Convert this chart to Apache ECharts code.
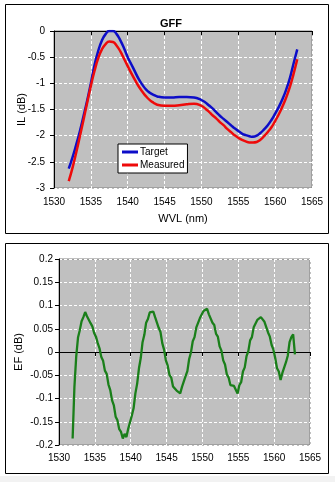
<!DOCTYPE html>
<html>
<head>
<meta charset="utf-8">
<script src="https://cdn.jsdelivr.net/npm/echarts@6/dist/echarts.min.js"></script>
<style>
  html, body { margin: 0; padding: 0; background: #ffffff; }
  #chart { width: 335px; height: 482px; }
</style>
</head>
<body>
<div id="chart"></div>
<script>
// Insertion loss of the gain-flattening filter (dB) vs wavelength (nm)
const ilWavelength = [
  1532, 1532.5, 1533, 1533.5, 1534, 1534.5, 1535, 1535.5, 1536, 1536.5,
  1537, 1537.5, 1538, 1538.5, 1539, 1539.5, 1540, 1540.5, 1541, 1541.5,
  1542, 1542.5, 1543, 1543.5, 1544, 1545, 1546, 1547, 1548, 1549,
  1550, 1550.5, 1551, 1551.5, 1552, 1552.5, 1553, 1553.5, 1554, 1554.5,
  1555, 1555.5, 1556, 1556.5, 1557, 1557.5, 1558, 1558.5, 1559, 1559.5,
  1560, 1560.5, 1561, 1561.5, 1562, 1562.5, 1563
];
const ilTarget = [
  -2.63, -2.42, -2.18, -1.92, -1.63, -1.33, -1.00, -0.65, -0.38, -0.18,
  -0.06, 0.00, 0.00, -0.06, -0.18, -0.33, -0.50, -0.64, -0.78, -0.92,
  -1.03, -1.12, -1.18, -1.22, -1.25, -1.27, -1.27, -1.26, -1.26, -1.27,
  -1.32, -1.36, -1.42, -1.48, -1.55, -1.62, -1.68, -1.74, -1.80, -1.86,
  -1.91, -1.96, -1.99, -2.01, -2.02, -2.00, -1.95, -1.88, -1.80, -1.70,
  -1.58, -1.45, -1.30, -1.12, -0.90, -0.62, -0.35
];
const ilMeasured = [
  -2.87, -2.62, -2.33, -2.02, -1.70, -1.37, -1.05, -0.76, -0.52, -0.35,
  -0.25, -0.20, -0.21, -0.28, -0.39, -0.53, -0.67, -0.81, -0.94, -1.06,
  -1.16, -1.25, -1.32, -1.37, -1.41, -1.43, -1.43, -1.42, -1.40, -1.39,
  -1.43, -1.48, -1.54, -1.61, -1.67, -1.74, -1.80, -1.87, -1.93, -1.99,
  -2.04, -2.08, -2.11, -2.13, -2.13, -2.12, -2.08, -2.01, -1.93, -1.84,
  -1.72, -1.59, -1.44, -1.27, -1.07, -0.82, -0.54
];

// Error function (measured - target) sampled every 0.25 nm from 1531.9 nm
const efStart = 1531.9;
const efStep = 0.25;
const efValues = [
  -0.186, -0.075, -0.010, 0.031, 0.047, 0.066, 0.075, 0.086, 0.077, 0.074,
  0.062, 0.055, 0.041, 0.033, 0.019, 0.008, -0.011, -0.019, -0.040, -0.047,
  -0.070, -0.082, -0.104, -0.115, -0.139, -0.147, -0.166, -0.172, -0.186, -0.176,
  -0.183, -0.165, -0.163, -0.137, -0.121, -0.089, -0.068, -0.035, -0.013, 0.021,
  0.037, 0.063, 0.071, 0.085, 0.084, 0.087, 0.075, 0.071, 0.052, 0.043,
  0.019, 0.005, -0.018, -0.029, -0.049, -0.055, -0.074, -0.071, -0.083, -0.080,
  -0.089, -0.075, -0.071, -0.052, -0.041, -0.015, -0.001, 0.023, 0.032, 0.053,
  0.057, 0.073, 0.075, 0.088, 0.085, 0.093, 0.081, 0.079, 0.063, 0.058,
  0.039, 0.033, 0.012, 0.003, -0.018, -0.027, -0.048, -0.055, -0.071, -0.069,
  -0.073, -0.076, -0.089, -0.071, -0.065, -0.042, -0.033, -0.009, 0.002, 0.025,
  0.032, 0.053, 0.055, 0.069, 0.067, 0.075, 0.071, 0.065, 0.061, 0.042,
  0.033, 0.015, 0.005, -0.013, -0.035, -0.042, -0.060, -0.045, -0.041, -0.022,
  -0.008, 0.021, 0.032, 0.038, -0.005
];

const xTicks = { min: 1530, max: 1565, interval: 5 };
const ilTicks = { min: -3, max: 0, interval: 0.5 };
const efTicks = { min: -0.2, max: 0.2, interval: 0.05 };

const FONT = 'Liberation Sans, Arial, sans-serif';

const pair = (xs, ys) => ys.map((v, i) => [xs[i], v]);
const efWavelength = efValues.map((_, i) => +(efStart + i * efStep).toFixed(2));
const plainNumber = v => String(+v.toFixed(3));

function valueAxis(range, labelMargin, extra) {
  return Object.assign({
    type: 'value',
    min: range.min, max: range.max, interval: range.interval,
    axisLine: { show: true, lineStyle: { color: '#000', width: 1 } },
    axisTick: { show: true, inside: false, length: 4, lineStyle: { color: '#000' } },
    axisLabel: { color: '#000', fontFamily: FONT, fontSize: 10, margin: labelMargin, formatter: plainNumber },
    splitLine: { show: true, lineStyle: { color: '#ffffff', type: [3, 2], width: 1 } },
    nameMoveOverlap: false
  }, extra || {});
}

const chart = echarts.init(document.getElementById('chart'), null, { renderer: 'canvas' });

chart.setOption({
  animation: false,
  backgroundColor: '#ffffff',
  title: {
    text: 'GFF',
    left: 166, top: 13, textAlign: 'center',
    textStyle: { fontFamily: FONT, fontSize: 11, fontWeight: 'bold', color: '#000' }
  },
  legend: {
    data: ['Target', 'Measured'],
    orient: 'vertical',
    left: 118, top: 144,
    itemWidth: 16, itemHeight: 3, itemGap: 3,
    icon: 'rect',
    padding: [3, 3, 3, 4],
    backgroundColor: '#ffffff',
    borderColor: '#000000', borderWidth: 1, borderRadius: 0,
    textStyle: { fontFamily: FONT, fontSize: 10, color: '#000', padding: [0, 0, 0, -3] }
  },
  graphic: [
    { type: 'rect', shape: { x: 5.5, y: 4.5, width: 323, height: 229 },
      style: { fill: 'none', stroke: '#000', lineWidth: 1 }, z: 100 },
    { type: 'rect', shape: { x: 5.5, y: 243.5, width: 323, height: 230 },
      style: { fill: 'none', stroke: '#000', lineWidth: 1 }, z: 100 },
    { type: 'rect', shape: { x: 0, y: 476, width: 335, height: 6 },
      style: { fill: '#f2f2f2' }, z: 0 }
  ],
  grid: [
    { left: 54, top: 31, width: 258, height: 157, show: true,
      backgroundColor: '#c0c0c0', borderColor: '#808080', borderWidth: 1 },
    { left: 59, top: 259, width: 251, height: 186, show: true,
      backgroundColor: '#c0c0c0', borderColor: '#808080', borderWidth: 1 }
  ],
  xAxis: [
    valueAxis(xTicks, 9, {
      gridIndex: 0,
      name: 'WVL (nm)', nameLocation: 'middle', nameGap: 25,
      nameTextStyle: { fontFamily: FONT, fontSize: 11, color: '#000' }
    }),
    valueAxis(xTicks, 8, { gridIndex: 1 })
  ],
  yAxis: [
    valueAxis(ilTicks, 9, {
      gridIndex: 0,
      name: 'IL (dB)', nameLocation: 'middle', nameGap: 27,
      nameTextStyle: { fontFamily: FONT, fontSize: 11, color: '#000' }
    }),
    valueAxis(efTicks, 6, {
      gridIndex: 1,
      name: 'EF (dB)', nameLocation: 'middle', nameGap: 35,
      nameTextStyle: { fontFamily: FONT, fontSize: 11, color: '#000' }
    })
  ],
  series: [
    { name: 'Target', type: 'line', xAxisIndex: 0, yAxisIndex: 0,
      data: pair(ilWavelength, ilTarget), showSymbol: false, smooth: true,
      lineStyle: { color: '#0d0dc8', width: 2.5 }, itemStyle: { color: '#0d0dc8' } },
    { name: 'Measured', type: 'line', xAxisIndex: 0, yAxisIndex: 0,
      data: pair(ilWavelength, ilMeasured), showSymbol: false, smooth: true,
      lineStyle: { color: '#ee0a0a', width: 2.5 }, itemStyle: { color: '#ee0a0a' } },
    { name: 'EF', type: 'line', xAxisIndex: 1, yAxisIndex: 1,
      data: pair(efWavelength, efValues), showSymbol: false,
      lineStyle: { color: '#1a7f1a', width: 2.3 }, itemStyle: { color: '#1a7f1a' } }
  ]
});
</script>
</body>
</html>
